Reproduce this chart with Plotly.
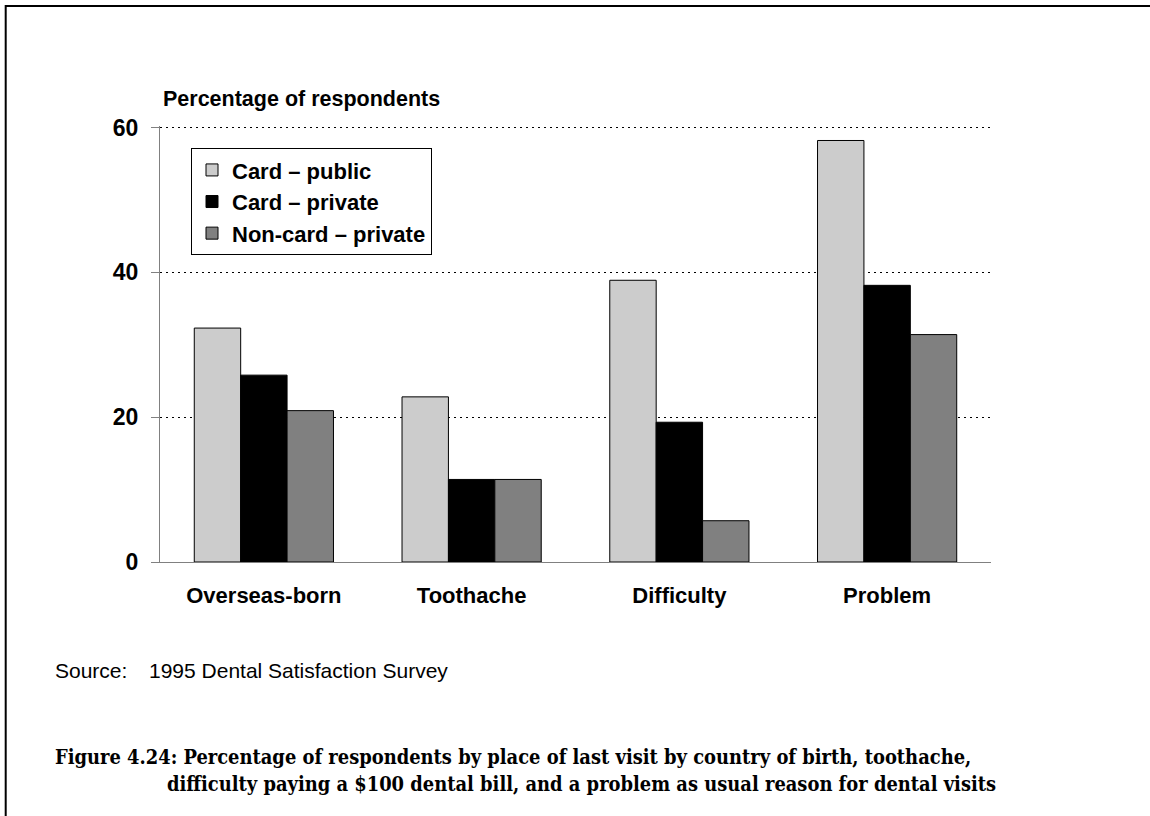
import plotly.graph_objects as go

categories = ["Overseas-born", "Toothache", "Difficulty", "Problem"]
series_names = ["Card – public", "Card – private", "Non-card – private"]
card_public = [32.3, 22.8, 38.9, 58.2]
card_private = [25.8, 11.4, 19.3, 38.2]
noncard_private = [20.9, 11.4, 5.7, 31.4]
series_colors = ["#cccccc", "#000000", "#808080"]
y_ticks = [0, 20, 40, 60]
y_max = 60.2

W, H = 1150, 816
PL, PR, PB = 160, 991, 562.3
PX_PER_UNIT = 7.25
PT = PB - y_max * PX_PER_UNIT  # top of plot area in px


def px_x(x):
    return (x - PL) / (PR - PL)


def px_y(y):
    return (PB - y) / (PB - PT)


fig = go.Figure()
for name, vals, col in zip(series_names, [card_public, card_private, noncard_private], series_colors):
    fig.add_trace(go.Bar(
        x=categories, y=vals, name=name,
        marker=dict(color=col, line=dict(color="#000000", width=1)),
    ))

font_sans = "Liberation Sans, Arial, sans-serif"
font_serif = "DejaVu Serif Condensed, DejaVu Serif, serif"

fig.update_layout(
    width=W, height=H,
    margin=dict(l=PL, r=W - PR, t=PT, b=H - PB, pad=0),
    paper_bgcolor="white", plot_bgcolor="white",
    barmode="group", bargap=0.33, bargroupgap=0,
    font=dict(family=font_sans, color="#000000"),
    showlegend=True,
    legend=dict(
        x=px_x(191), y=px_y(148), xanchor="left", yanchor="top",
        bgcolor="white", bordercolor="#000000", borderwidth=1,
        font=dict(family=font_sans, size=22, weight="bold", color="#000000"),
        itemwidth=30, traceorder="normal",
    ),
    xaxis=dict(
        showline=True, linecolor="#808080", linewidth=1,
        ticks="", showgrid=False, zeroline=False,
        tickfont=dict(family=font_sans, size=22, weight="bold", color="#000000"),
        ticklabelstandoff=14,
        range=[-0.5, 3.5],
    ),
    yaxis=dict(
        range=[0, y_max], tickvals=y_ticks,
        showline=True, linecolor="#808080", linewidth=1,
        ticks="outside", ticklen=8, tickcolor="#808080", tickwidth=1,
        showgrid=True, gridcolor="#000000", gridwidth=1, griddash="2px,4px",
        zeroline=False,
        tickfont=dict(family=font_sans, size=23, weight="bold", color="#000000"),
        ticklabelstandoff=8,
    ),
    shapes=[
        dict(type="rect", xref="paper", yref="paper",
             x0=px_x(5.7), x1=px_x(1170), y0=px_y(840), y1=px_y(5.7),
             line=dict(color="#000000", width=2), fillcolor="rgba(0,0,0,0)", layer="below"),
    ],
    annotations=[
        dict(text="Percentage of respondents", xref="paper", yref="paper",
             x=px_x(161), y=px_y(99), xanchor="left", yanchor="middle", showarrow=False,
             font=dict(family=font_sans, size=21.5, weight="bold", color="#000000")),
        dict(text="Source:", xref="paper", yref="paper",
             x=px_x(52.5), y=px_y(671), xanchor="left", yanchor="middle", showarrow=False,
             font=dict(family=font_sans, size=21, color="#000000")),
        dict(text="1995 Dental Satisfaction Survey", xref="paper", yref="paper",
             x=px_x(147), y=px_y(671), xanchor="left", yanchor="middle", showarrow=False,
             font=dict(family=font_sans, size=21, color="#000000")),
        dict(text="Figure 4.24: Percentage of respondents by place of last visit by country of birth, toothache,",
             xref="paper", yref="paper",
             x=px_x(52.5), y=px_y(758), xanchor="left", yanchor="middle", showarrow=False,
             font=dict(family=font_serif, size=19.9, weight="bold", color="#000000")),
        dict(text="difficulty paying a $100 dental bill, and a problem as usual reason for dental visits",
             xref="paper", yref="paper",
             x=px_x(165), y=px_y(785), xanchor="left", yanchor="middle", showarrow=False,
             font=dict(family=font_serif, size=19.9, weight="bold", color="#000000")),
    ],
)

fig.write_html(
    "out.html",
    config={"displayModeBar": False},
    post_script="document.body.style.margin='0px';document.body.style.overflow='hidden';",
)
